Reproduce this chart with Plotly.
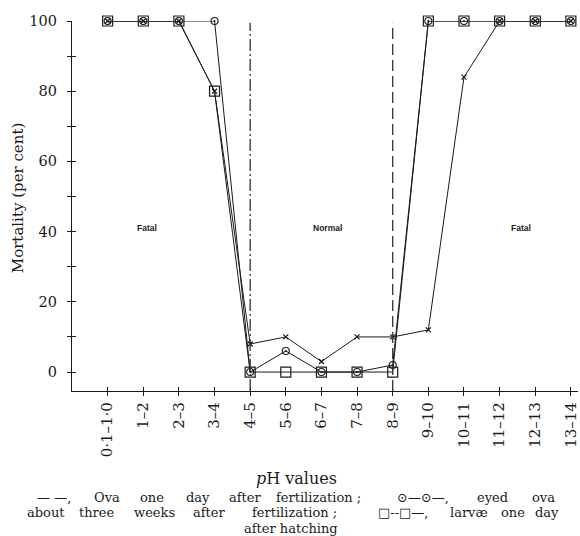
import plotly.graph_objects as go

ph_labels = ["0·1–1·0", "1–2", "2–3", "3–4", "4–5", "5–6", "6–7", "7–8",
             "8–9", "9–10", "10–11", "11–12", "12–13", "13–14"]
ova_one_day = [100, 100, 100, 80, 8, 10, 3, 10, 10, 12, 84, 100, 100, 100]
eyed_ova = [100, 100, 100, 100, 0, 6, 0, 0, 2, 100, 100, 100, 100, 100]
larvae = [100, 100, 100, 80, 0, 0, 0, 0, 0, 100, 100, 100, 100, 100]
boundaries = [4, 8]  # category indices of the normal-range limits (4–5 and 8–9)
zone_labels = [("Fatal", 1.1, 41), ("Normal", 6.17, 41), ("Fatal", 11.6, 41)]

xs = list(range(len(ph_labels)))
INK = "#1a1a1a"
SERIF = "DejaVu Serif"

fig = go.Figure()

fig.add_trace(go.Scatter(x=xs, y=larvae, mode="lines+markers",
                         line=dict(color=INK, width=1),
                         marker=dict(symbol="square-open", size=10, color=INK, line=dict(width=1.2)),
                         cliponaxis=False, hoverinfo="skip"))
fig.add_trace(go.Scatter(x=xs, y=eyed_ova, mode="lines+markers",
                         line=dict(color=INK, width=1),
                         marker=dict(symbol="circle-open-dot", size=7, color=INK, line=dict(width=1.1)),
                         cliponaxis=False, hoverinfo="skip"))
fig.add_trace(go.Scatter(x=xs, y=ova_one_day, mode="lines+markers",
                         line=dict(color=INK, width=1),
                         marker=dict(symbol="x-thin-open", size=5, color=INK, line=dict(width=1.2)),
                         cliponaxis=False, hoverinfo="skip"))
# helper trace for the inner half of the cross ticks
fig.add_trace(go.Scatter(x=[0], y=[0], xaxis="x2", yaxis="y2", mode="markers",
                         marker=dict(opacity=0), hoverinfo="skip"))

YMIN, YMAX = -5.4, 100
dashes = ["12px,3px,2px,3px", "11px,5px"]
for b, d in zip(boundaries, dashes):
    fig.add_shape(type="line", xref="x", yref="y", x0=b, x1=b, y0=YMIN, y1=YMAX - 0.5,
                  line=dict(color="#333", width=1.3, dash=d))

for txt, xv, yv in zone_labels:
    fig.add_annotation(x=xv, y=yv, xref="x", yref="y", text="<b>%s</b>" % txt,
                       xanchor="center", yanchor="middle",
                       showarrow=False, font=dict(family="Liberation Sans", size=8.5, color=INK))

W, H = 580, 536
L, R, T, B = 72, 0, 21, 145
pw, ph = W - L - R, H - T - B


def px(xp):
    return (xp - L) / pw


def py(yp):
    return (H - B - yp) / ph


def label(text, xc, yc, size, angle=0):
    fig.add_annotation(x=px(xc), y=py(yc), xref="paper", yref="paper", text=text,
                       xanchor="center", yanchor="middle", textangle=angle,
                       showarrow=False, font=dict(family=SERIF, size=size, color=INK))


label("Mortality (per cent)", 18, 198, 15, -90)
label("<i>p</i>H values", 297, 478, 16)

# caption, set word by word to imitate the justified print
caption_words = [
    [("— —,", 54), ("Ova", 107), ("one", 152), ("day", 198), ("after", 246),
     ("fertilization ;", 319), ("⊙—⊙—,", 424), ("eyed", 494), ("ova", 545)],
    [("about", 46), ("three", 97), ("weeks", 155), ("after", 210),
     ("fertilization ;", 295), ("□--□—,", 404), ("larvæ", 471), ("one", 515), ("day", 549)],
    [("after hatching", 292)],
]
for words, yc in zip(caption_words, [497, 512.5, 528]):
    for w, xc in words:
        label(w, xc, yc, 13)

fig.update_layout(
    width=W, height=H, margin=dict(l=L, r=R, t=T, b=B),
    paper_bgcolor="white", plot_bgcolor="white", showlegend=False,
    xaxis=dict(range=[-1.0, 13.2], tickvals=xs, ticktext=ph_labels, tickangle=-90,
               ticks="outside", ticklen=4, tickcolor=INK, showline=True, linecolor=INK, linewidth=1.2,
               showgrid=False, zeroline=False, tickfont=dict(family=SERIF, size=15, color=INK),
               ticklabeloverflow="allow", fixedrange=True),
    yaxis=dict(range=[YMIN, YMAX], tickvals=[0, 20, 40, 60, 80, 100],
               ticks="outside", ticklen=4, tickcolor=INK, showline=True, linecolor=INK, linewidth=1.2,
               minor=dict(tickvals=[10, 30, 50, 70, 90], ticks="outside", ticklen=4, tickcolor=INK),
               showgrid=False, zeroline=False, tickfont=dict(family=SERIF, size=14.5, color=INK),
               ticklabelstandoff=7, fixedrange=True),
    xaxis2=dict(range=[-1.0, 13.2], overlaying="x", anchor="y2", side="bottom", tickvals=xs,
                ticks="inside", ticklen=4, tickcolor=INK, showticklabels=False, showline=False,
                showgrid=False, zeroline=False, fixedrange=True),
    yaxis2=dict(range=[YMIN, YMAX], overlaying="y", anchor="x2", side="left",
                tickvals=list(range(0, 101, 10)), ticks="inside", ticklen=4, tickcolor=INK,
                showticklabels=False, showline=False, showgrid=False, zeroline=False, fixedrange=True),
)

fig.write_html("out.html", config={"displayModeBar": False},
               post_script="document.body.style.margin='0px';")
